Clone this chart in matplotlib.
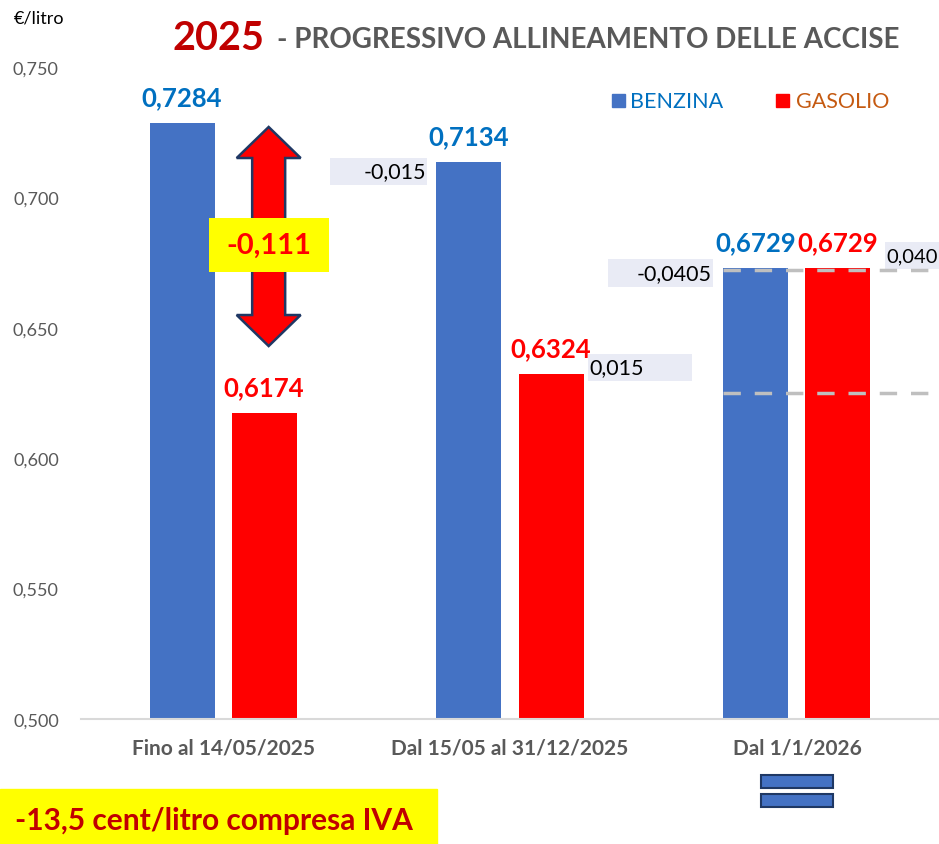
import numpy as np
import matplotlib.pyplot as plt
from matplotlib.patches import Rectangle, Polygon

plt.rcParams['font.family'] = ['Lato', 'DejaVu Sans']

# data
categorie = ["Fino al 14/05/2025", "Dal 15/05 al 31/12/2025", "Dal 1/1/2026"]
benzina = [0.7284, 0.7134, 0.6729]
gasolio = [0.6174, 0.6324, 0.6729]
yticks = [0.500, 0.550, 0.600, 0.650, 0.700, 0.750]

# variation boxes: text, x0, x1, y0, y1, alignment
variazioni = [
    ("-0,015", 0.373, 0.711, 0.7047, 0.7151, "right"),
    ("0,015", 1.272, 1.634, 0.6296, 0.6400, "left"),
    ("-0,0405", 1.342, 1.707, 0.6656, 0.6764, "right"),
    ("0,040", 2.307, 2.60, 0.6725, 0.6829, "left"),
]
linee_tratteggiate = [0.672, 0.625]

BLU = "#4472C4"
ROSSO = "#FF0000"
BLU_TXT = "#0070C0"
GRIGIO = "#595959"

fig = plt.figure(figsize=(9.39, 8.45), dpi=100)
ax = fig.add_axes([81 / 939, 125 / 845, 858 / 939, 652 / 845])

x = np.arange(len(categorie))
w = 0.2265
off = 0.1429
ax.bar(x - off, benzina, w, color=BLU, zorder=2)
ax.bar(x + off, gasolio, w, color=ROSSO, zorder=2)

ax.set_ylim(0.5, 0.75)
ax.set_xlim(-0.495, 2.495)
ax.set_yticks(yticks)
ax.set_yticklabels([f"{v:.3f}".replace(".", ",") for v in yticks], color=GRIGIO, fontsize=13)
ax.set_xticks(x)
ax.set_xticklabels(categorie, fontweight="bold", color=GRIGIO, fontsize=15)
ax.tick_params(length=0)
ax.tick_params(axis="x", pad=13)
ax.tick_params(axis="y", pad=16)
for s in ["top", "right", "left"]:
    ax.spines[s].set_visible(False)
ax.spines["bottom"].set_color("#D9D9D9")
ax.spines["bottom"].set_linewidth(1.5)

# value labels
for i in range(len(categorie)):
    ax.annotate(f"{benzina[i]:.4f}".replace(".", ","), (x[i] - off, benzina[i]),
                xytext=(0, 13), textcoords="offset points", ha="center", va="baseline",
                color=BLU_TXT, fontweight="bold", fontsize=18.5)
    ax.annotate(f"{gasolio[i]:.4f}".replace(".", ","), (x[i] + off, gasolio[i]),
                xytext=(0, 13), textcoords="offset points", ha="center", va="baseline",
                color=ROSSO, fontweight="bold", fontsize=18.5)

# dashed lines
for yv in linee_tratteggiate:
    ax.plot([x[2] - off - w / 2, 2.495], [yv, yv], ls=(0, (5, 4)), color="#BFBFBF", lw=2.5,
            zorder=3, clip_on=False)

# variation boxes
for txt, x0, x1, y0, y1, al in variazioni:
    ax.add_patch(Rectangle((x0, y0), x1 - x0, y1 - y0, facecolor="#E9EBF5", edgecolor="none",
                           zorder=1, clip_on=False))
    tx = x1 - 0.005 if al == "right" else x0 + 0.003
    fs = 14.5 if x0 > 2 else 15.5
    ax.text(tx, (y0 + y1) / 2, txt, ha=al, va="center", fontsize=fs, color="black", zorder=4)

# double arrow
xc = 0.159
hs = 0.0575
hh = 0.1115
top, top_b = 0.7270, 0.7151
bot, bot_b = 0.6430, 0.6549
pts = [(xc, top), (xc + hh, top_b), (xc + hs, top_b), (xc + hs, bot_b), (xc + hh, bot_b),
       (xc, bot), (xc - hh, bot_b), (xc - hs, bot_b), (xc - hs, top_b), (xc - hh, top_b)]
ax.add_patch(Polygon(pts, closed=True, facecolor=ROSSO, edgecolor="#1F3864", lw=1.8, zorder=4))
ax.add_patch(Rectangle((-0.049, 0.6714), 0.418, 0.0207, facecolor="#FFFF00", edgecolor="none",
                       zorder=5))
ax.text(0.16, 0.6818, "-0,111", ha="center", va="center", color=ROSSO, fontweight="bold",
        fontsize=21, zorder=6)

# legend
fig.patches.append(Rectangle((612 / 939, 1 - 108 / 845), 13 / 939, 13 / 845, color=BLU,
                             transform=fig.transFigure))
fig.text(630 / 939, 1 - 102 / 845, "BENZINA", color=BLU_TXT, fontsize=15.5, va="center")
fig.patches.append(Rectangle((776 / 939, 1 - 108 / 845), 13 / 939, 13 / 845, color=ROSSO,
                             transform=fig.transFigure))
fig.text(796 / 939, 1 - 102 / 845, "GASOLIO", color="#C55A11", fontsize=15.5, va="center")

# titles
fig.text(14 / 939, 1 - 18 / 845, "€/litro", fontsize=13, va="center", color="black")
fig.text(173 / 939, 1 - 50 / 845, "2025", fontsize=28.5, fontweight="bold", color="#C00000",
         va="baseline")
fig.text(277 / 939, 1 - 48 / 845, "- PROGRESSIVO ALLINEAMENTO DELLE ACCISE", fontsize=20,
         fontweight="bold", color=GRIGIO, va="baseline")

# equal sign
for yy in [776, 795]:
    fig.patches.append(Rectangle((761 / 939, 1 - (yy + 13) / 845), 72 / 939, 13 / 845,
                                 facecolor=BLU, edgecolor="#1F3864", lw=1.5,
                                 transform=fig.transFigure))

# bottom note
fig.patches.append(Rectangle((0, 0), 437 / 939, 55 / 845, color="#FFFF00",
                             transform=fig.transFigure))
fig.text(15 / 939, 1 - 821 / 845, "-13,5 cent/litro compresa IVA", fontsize=21.5,
         fontweight="bold", color="#C00000", va="center")

fig.savefig("out.png", dpi=100)
